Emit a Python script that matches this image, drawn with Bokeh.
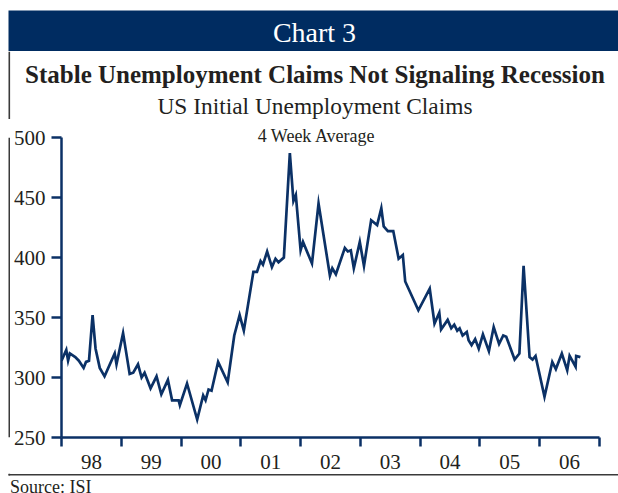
from bokeh.plotting import figure
from bokeh.layouts import column, row
from bokeh.models import FixedTicker, LinearAxis
from bokeh.core.properties import value
from bokeh.embed import file_html
from bokeh.resources import INLINE

# ---- data (decimal year, 4-week average of initial claims, thousands) ----
years = [1998.00, 1998.08, 1998.11, 1998.14, 1998.23, 1998.29, 1998.37, 1998.41, 1998.46, 1998.52,
         1998.57, 1998.64, 1998.72, 1998.89, 1998.92, 1999.03, 1999.14, 1999.20, 1999.28, 1999.34,
         1999.39, 1999.49, 1999.59, 1999.67, 1999.78, 1999.85, 1999.96, 1999.98, 2000.10, 2000.27,
         2000.37, 2000.41, 2000.46, 2000.51, 2000.62, 2000.78, 2000.89, 2000.98, 2001.05, 2001.21,
         2001.27, 2001.33, 2001.37, 2001.44, 2001.52, 2001.58, 2001.63, 2001.72, 2001.82, 2001.88,
         2001.92, 2002.00, 2002.04, 2002.19, 2002.30, 2002.49, 2002.53, 2002.59, 2002.74, 2002.79,
         2002.84, 2002.89, 2002.99, 2003.06, 2003.18, 2003.28, 2003.35, 2003.39, 2003.46, 2003.55,
         2003.64, 2003.71, 2003.75, 2003.97, 2004.16, 2004.24, 2004.32, 2004.35, 2004.46, 2004.52,
         2004.57, 2004.62, 2004.66, 2004.71, 2004.78, 2004.81, 2004.86, 2004.92, 2004.98, 2005.05,
         2005.15, 2005.23, 2005.32, 2005.39, 2005.44, 2005.58, 2005.66, 2005.73, 2005.83, 2005.88,
         2005.93, 2006.08, 2006.21, 2006.27, 2006.37, 2006.46, 2006.50, 2006.60, 2006.61, 2006.68]
claims = [314, 323, 314, 320, 317, 314, 308, 313, 314, 352,
          324, 308, 301, 320, 311, 337, 303, 304, 311, 300,
          304, 291, 301, 286, 298, 281, 281, 277, 295, 265,
          285, 281, 290, 289, 313, 296, 335, 352, 339, 388,
          388, 397, 394, 405, 392, 399, 396, 400, 487, 447,
          452, 406, 413, 395, 445, 385, 391, 386, 408, 405,
          406, 391, 413, 393, 431, 427, 441, 426, 422, 422,
          399, 402, 380, 356, 374, 345, 354, 340, 348, 341,
          344, 339, 341, 335, 338, 331, 327, 332, 324, 336,
          322, 342, 328, 335, 334, 315, 320, 393, 317, 315,
          318, 284, 313, 307, 320, 306, 318, 309, 318, 317]

year_ticks = [1998, 1999, 2000, 2001, 2002, 2003, 2004, 2005, 2006, 2007]
year_labels = ["98", "99", "00", "01", "02", "03", "04", "05", "06"]
y_ticks = [250, 300, 350, 400, 450, 500]

header = "Chart 3"
title_main = "Stable Unemployment Claims Not Signaling Recession"
subtitle = "US Initial Unemployment Claims"
subsubtitle = "4 Week Average"
source = "Source: ISI"

NAVY = "#002c61"
LINE = "#0b3166"
TEXT = "#231f20"
RULE = "#3a3a3a"
FONT = "Liberation Serif"
PW = 618
BASE_SHIFT = 0.33  # rendered alphabetic baseline sits ~0.33em lower than asked


def panel(w, h):
    """A figure whose frame fills it, with pixel-like coordinates (y down)."""
    f = figure(width=w, height=h, x_range=(0, w), y_range=(h, 0),
               x_axis_type=None, y_axis_type=None, output_backend="svg",
               toolbar_location=None, min_border=0)
    f.outline_line_color = None
    f.background_fill_color = "white"
    f.border_fill_color = "white"
    return f


def ptext(f, x, y, txt, size, color=TEXT, style="normal", align="center"):
    f.text(x=[x], y=[y - BASE_SHIFT * size], text=[txt], text_font=value(FONT),
           text_font_size=f"{size}px", text_color=color, text_font_style=style,
           text_align=align, text_baseline="alphabetic")


# ---- header bar (page y 0..51) ----
hdr = panel(PW, 51)
hdr.quad(left=[8], right=[PW], top=[10], bottom=[50.6], fill_color=NAVY, line_color=None)
ptext(hdr, 314, 41, header, 28, color="white")

# ---- titles (page y 51..119) ----
TY0 = 51
TH = 68
tit = panel(PW, TH)
tit.quad(left=[8], right=[9.6], top=[0], bottom=[TH], fill_color=RULE, line_color=None)
ptext(tit, 314.5, 82 - TY0, title_main, 25, style="bold")
ptext(tit, 314.5, 113 - TY0, subtitle, 23.4)

# ---- left rule strip (page y 119..473, x 0..10) ----
CH = 354
strip = panel(10, CH)
strip.quad(left=[8], right=[9.6], top=[0], bottom=[CH], fill_color=RULE, line_color=None)

# ---- chart (page x 10..618, y 119..473); frame x 61..599, y 137..437 ----
p = figure(width=608, height=CH, x_range=(1998, 2007), y_range=(250, 500),
           output_backend="svg", toolbar_location=None,
           min_border_left=51, min_border_right=19, min_border_top=18, min_border_bottom=36)
p.outline_line_color = None
p.xgrid.visible = False
p.ygrid.visible = False
p.background_fill_color = "white"
p.border_fill_color = "white"

p.line(years, claims, line_color=LINE, line_width=2.7, line_join="miter")

xa = p.xaxis[0]
mids = [(a + b) / 2 for a, b in zip(year_ticks[:-1], year_ticks[1:])]
xa.ticker = FixedTicker(ticks=mids, minor_ticks=year_ticks)
xa.major_label_overrides = {m: l for m, l in zip(mids, year_labels)}
xa.major_tick_out = 0
xa.major_tick_in = 0
xa.minor_tick_out = 9
xa.minor_tick_in = 0
xa.minor_tick_line_color = LINE
xa.minor_tick_line_width = 2.5
xa.axis_line_color = LINE
xa.axis_line_width = 2.5
xa.major_label_text_font = FONT
xa.major_label_text_font_size = "21px"
xa.major_label_text_color = TEXT
xa.major_label_standoff = 8

ya = p.yaxis[0]
ya.ticker = FixedTicker(ticks=y_ticks, minor_ticks=[])
ya.major_tick_out = 10
ya.major_tick_in = 0
ya.major_tick_line_color = LINE
ya.major_tick_line_width = 2.5
ya.minor_tick_line_color = None
ya.axis_line_color = LINE
ya.axis_line_width = 2.5
ya.major_label_text_font = FONT
ya.major_label_text_font_size = "21px"
ya.major_label_text_color = TEXT
ya.major_label_standoff = 6

# "4 Week Average" as the only label of a bare axis above the frame
sub_x = 2002.27
top_ax = LinearAxis(ticker=FixedTicker(ticks=[sub_x], minor_ticks=[]),
                    major_label_overrides={sub_x: subsubtitle},
                    axis_line_color=None, major_tick_line_color=None,
                    minor_tick_line_color=None, major_tick_out=0, major_tick_in=0,
                    major_label_standoff=-8,
                    major_label_text_font=FONT, major_label_text_font_size="18px",
                    major_label_text_color=TEXT)
p.add_layout(top_ax, "above")

# ---- footer (page y 473..493) ----
FY0 = 473
ftr = panel(PW, 20)
ftr.quad(left=[8], right=[9.6], top=[0], bottom=[475 - FY0], fill_color=RULE, line_color=None)
ftr.quad(left=[8], right=[PW], top=[473.5 - FY0], bottom=[475 - FY0], fill_color=RULE, line_color=None)
ptext(ftr, 9.5, 492.5 - FY0, source, 18, align="left")

layout = column(hdr, tit, row(strip, p, spacing=0), ftr, spacing=0)
open("out.html", "w").write(file_html(layout, INLINE))
